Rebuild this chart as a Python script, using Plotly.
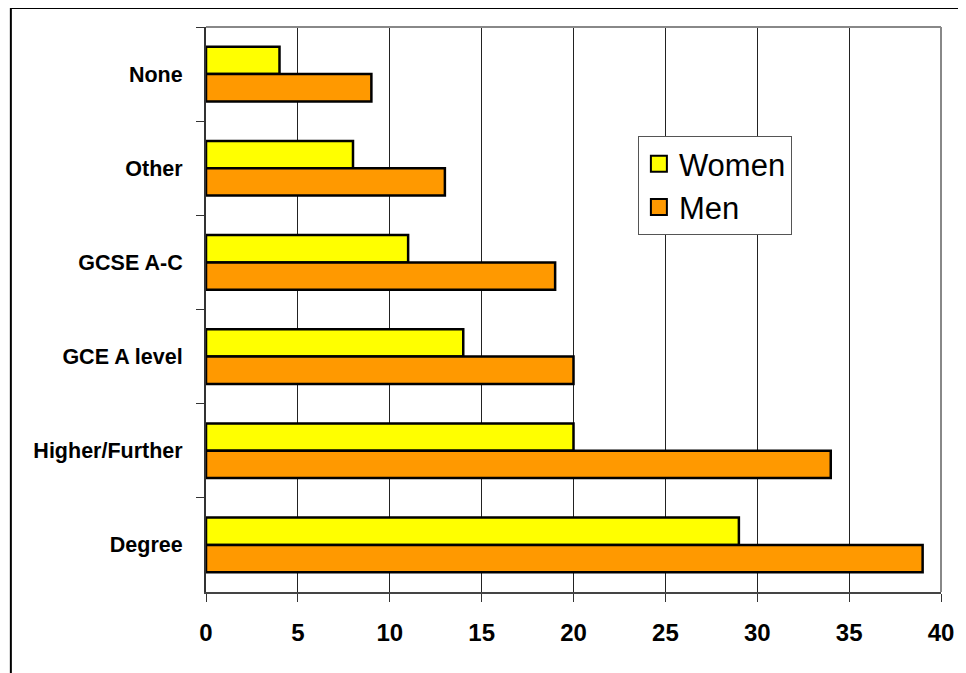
import plotly.graph_objects as go

categories = ["None", "Other", "GCSE A-C", "GCE A level", "Higher/Further", "Degree"]
women = [4, 8, 11, 14, 20, 29]
men = [9, 13, 19, 20, 34, 39]
x_ticks = [0, 5, 10, 15, 20, 25, 30, 35, 40]

FONT = "Liberation Sans, Arial, sans-serif"
YELLOW, ORANGE = "#FFFF00", "#FF9900"

fig = go.Figure()
fig.add_trace(go.Bar(y=categories, x=women, name="Women", orientation="h", showlegend=False,
                     marker=dict(color=YELLOW, line=dict(color="black", width=2.5))))
fig.add_trace(go.Bar(y=categories, x=men, name="Men", orientation="h", showlegend=False,
                     marker=dict(color=ORANGE, line=dict(color="black", width=2.5))))
# legend entries with larger square swatches
for name, col in [("Women", YELLOW), ("Men", ORANGE)]:
    fig.add_trace(go.Scatter(x=[None], y=[None], mode="markers", name=name,
                             marker=dict(symbol="square", size=16, color=col,
                                         line=dict(color="black", width=2))))

# figure sits at page offset (8, 8) because of the default body margin
W, H = 958, 665
L, T, R, B = 198, 19, 18, 81
pw, ph = W - L - R, H - T - B

fig.update_layout(
    width=W, height=H,
    margin=dict(l=L, t=T, r=R, b=B),
    paper_bgcolor="white", plot_bgcolor="white",
    barmode="group", bargap=0.42, bargroupgap=0,
    font=dict(family=FONT, color="black"),
    showlegend=True,
    legend=dict(x=(634 - L) / pw, y=(H - B - 128) / ph, xanchor="left", yanchor="top",
                bgcolor="white", bordercolor="#555555", borderwidth=1,
                font=dict(size=31, family=FONT), itemsizing="trace",
                itemwidth=30, tracegroupgap=0),
    xaxis=dict(range=[0, 40], tickvals=x_ticks, ticks="outside", ticklen=8,
               tickcolor="#333", showgrid=True, gridcolor="#222", gridwidth=1,
               showline=True, linecolor="#444", linewidth=2, zeroline=False,
               tickfont=dict(size=24, family=FONT, weight="bold"), ticklabelstandoff=10),
    yaxis=dict(categoryorder="array", categoryarray=categories, autorange="reversed",
               tickson="boundaries", ticks="outside", ticklen=8, tickcolor="#333",
               showline=True, linecolor="#333", linewidth=2, showgrid=False,
               tickfont=dict(size=21.5, family=FONT, weight="bold"), ticklabelstandoff=17),
)

# top/right plot frame (grey)
fig.add_shape(type="line", xref="paper", yref="paper", x0=0, x1=1, y0=1, y1=1,
              line=dict(color="#888", width=2))
fig.add_shape(type="line", xref="paper", yref="paper", x0=1, x1=1, y0=0, y1=1,
              line=dict(color="#888", width=2))
# outer chart border
fig.add_shape(type="rect", xref="paper", yref="paper",
              x0=(1 - L) / pw, x1=(W + 10 - L) / pw,
              y0=(H - B - (H + 10)) / ph, y1=(H - B - 0) / ph,
              line=dict(color="black", width=2), layer="below")

fig.write_html("out.html")
